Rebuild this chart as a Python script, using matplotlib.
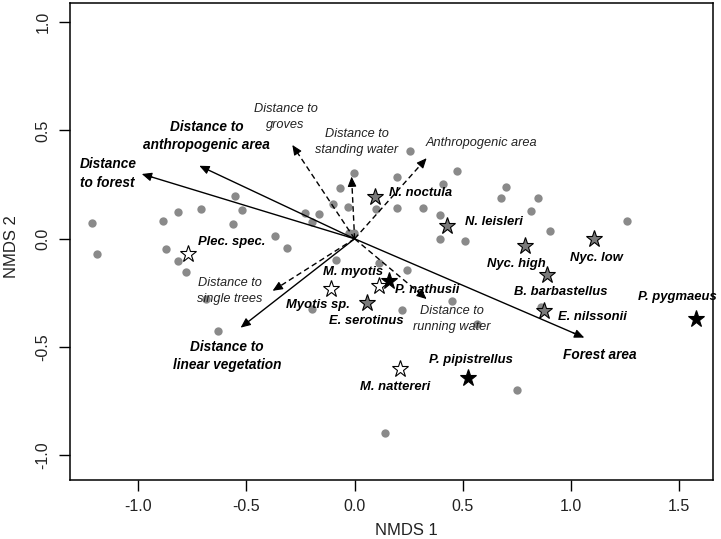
import matplotlib
matplotlib.use("Agg")
import matplotlib.pyplot as plt
from matplotlib.patches import FancyArrowPatch

# sites (grey dots), NMDS scores
site_x = [-1.215, -1.189, -0.884, -0.818, -0.709, -0.554, -0.519, -0.563, -0.873, -0.818,
          -0.781, -0.366, -0.313, -0.228, -0.196, -0.164, -0.101, -0.069, -0.031, -0.001,
          -0.027, -0.005, -0.086, -0.687, -0.632, -0.196, 0.255, 0.195, 0.472, 0.408,
          0.098, 0.197, 0.315, 0.397, 0.393, 0.510, 0.114, 0.241, 0.450, 0.218,
          0.564, 0.749, 0.142, 0.700, 0.676, 0.849, 0.814, 0.903, 1.258, 0.862]
site_y = [0.074, -0.069, 0.084, 0.125, 0.139, 0.198, 0.135, 0.066, -0.047, -0.104,
          -0.151, 0.014, -0.044, 0.117, 0.079, 0.115, 0.159, 0.236, 0.147, 0.304,
          0.026, 0.029, -0.098, -0.280, -0.426, -0.322, 0.405, 0.287, 0.314, 0.252,
          0.137, 0.141, 0.144, 0.112, -0.001, -0.009, -0.110, -0.142, -0.286, -0.330,
          -0.393, -0.699, -0.896, 0.240, 0.187, 0.187, 0.126, 0.037, 0.082, -0.315]

# species scores
species = ["Plec. spec.", "N. noctula", "N. leisleri", "Nyc. high", "Nyc. low",
           "B. barbastellus", "E. nilssonii", "P. pygmaeus", "P. pipistrellus",
           "M. nattereri", "M. myotis", "P. nathusii", "Myotis sp.", "E. serotinus"]
sp_x = [-0.769, 0.094, 0.429, 0.788, 1.107, 0.888, 0.877, 1.578, 0.523, 0.210, 0.113, 0.160, -0.109, 0.056]
sp_y = [-0.072, 0.194, 0.058, -0.033, -0.002, -0.168, -0.333, -0.370, -0.641, -0.601, -0.218, -0.193, -0.232, -0.298]
sp_group = ["open", "grey", "grey", "grey", "grey", "grey", "grey", "black", "black",
            "open", "open", "black", "open", "grey"]

# environmental vectors (fitted), significant ones drawn solid
env_names = ["Distance\nto forest", "Distance to\nanthropogenic area", "Distance to\nlinear vegetation",
             "Forest area", "Distance to\ngroves", "Distance to\nstanding water", "Anthropogenic area",
             "Distance to\nsingle trees", "Distance to\nrunning water"]
env_x = [-0.984, -0.718, -0.527, 1.062, -0.288, -0.014, 0.333, -0.379, 0.333]
env_y = [0.299, 0.337, -0.410, -0.456, 0.433, 0.287, 0.372, -0.240, -0.278]
env_signif = [True, True, True, True, False, False, False, False, False]

# label placement
env_label_pos = [(-1.269, 0.302, "left"), (-0.684, 0.474, "center"), (-0.591, -0.541, "center"),
                 (1.136, -0.536, "center"), (-0.319, 0.560, "center"), (0.011, 0.447, "center"),
                 (0.330, 0.441, "left"), (-0.576, -0.240, "center"), (0.449, -0.372, "center")]
sp_label_off = {
    "Plec. spec.": (7, 9, "left"), "N. noctula": (10, 3, "left"), "N. leisleri": (12.5, 3, "left"),
    "Nyc. high": (-6, -13, "center"), "Nyc. low": (2, -13.5, "center"),
    "B. barbastellus": (10, -12, "center"), "E. nilssonii": (10, -4, "left"),
    "P. pygmaeus": (-13.5, 15.5, "center"), "P. pipistrellus": (2, 12.5, "center"),
    "M. nattereri": (-3.5, -13, "center"), "M. myotis": (-19, 10, "center"),
    "P. nathusii": (4, -6.5, "left"), "Myotis sp.": (-9.5, -11.5, "center"),
    "E. serotinus": (0, -12.5, "center"),
}
group_color = {"open": "white", "grey": "#7a7a7a", "black": "black"}

plt.rcParams["font.family"] = ["Liberation Sans", "DejaVu Sans"]

fig = plt.figure(figsize=(7.21, 5.39), dpi=100)
ax = fig.add_axes([0.0971, 0.1095, 0.8914, 0.8849])
ax.set_xlim(-1.316, 1.656)
ax.set_ylim(-1.113, 1.088)

ax.plot(site_x, site_y, "o", color="#8a8a8a", ms=6, mec="none", zorder=2)

for i, name in enumerate(env_names):
    tx, ty = env_x[i], env_y[i]
    ls = "-" if env_signif[i] else (0, (4, 2.5))
    ax.plot([0, tx * 0.97], [0, ty * 0.97], color="black", lw=1.0, ls=ls, zorder=3)
    head = FancyArrowPatch((tx * 0.95, ty * 0.95), (tx, ty), arrowstyle="-|>,head_length=0.5,head_width=0.22",
                           mutation_scale=12, color="black", lw=0.8, shrinkA=0, shrinkB=0, zorder=3)
    ax.add_patch(head)
    lx, ly, ha = env_label_pos[i]
    if env_signif[i]:
        ax.text(lx, ly, name, ha=ha, va="center", multialignment=ha, fontsize=9.8,
                fontweight="bold", fontstyle="italic", linespacing=1.4, zorder=5)
    else:
        ax.text(lx, ly, name, ha=ha, va="center", multialignment=ha, fontsize=9.2,
                fontstyle="italic", color="#222222", linespacing=1.45, zorder=5)

for i, name in enumerate(species):
    ax.plot(sp_x[i], sp_y[i], marker="*", ms=12.5, mfc=group_color[sp_group[i]], mec="black",
            mew=0.8, ls="none", zorder=4)
    dx, dy, ha = sp_label_off[name]
    ax.annotate(name, (sp_x[i], sp_y[i]), xytext=(dx, dy), textcoords="offset points",
                ha=ha, va="center", fontsize=9.4, fontweight="bold", fontstyle="italic", zorder=5)

ax.set_xticks([-1.0, -0.5, 0.0, 0.5, 1.0, 1.5])
ax.set_yticks([-1.0, -0.5, 0.0, 0.5, 1.0])
ax.set_xticklabels(["-1.0", "-0.5", "0.0", "0.5", "1.0", "1.5"])
ax.set_yticklabels(["-1.0", "-0.5", "0.0", "0.5", "1.0"], rotation=90, va="center")
ax.tick_params(direction="out", length=8, width=1, labelsize=11.5, pad=6, colors="black",
               labelcolor="#222222")
for s in ax.spines.values():
    s.set_linewidth(1.1)
ax.set_xlabel("NMDS 1", fontsize=12, color="#222222")
ax.set_ylabel("NMDS 2", fontsize=12, color="#222222")
ax.xaxis.set_label_coords(0.524, -0.09)
ax.yaxis.set_label_coords(-0.08, 0.49)

fig.savefig("out.png", dpi=100, facecolor="white")
